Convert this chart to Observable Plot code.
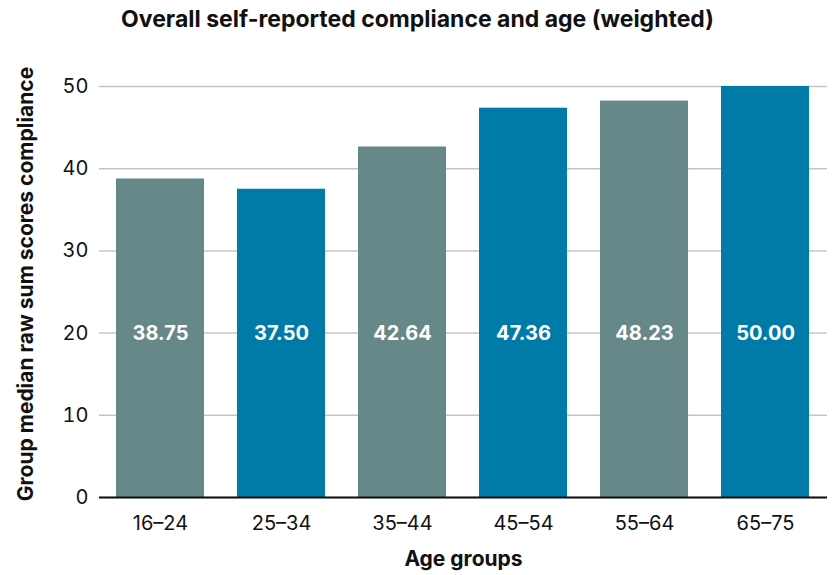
<!DOCTYPE html>
<html>
<head>
<meta charset="utf-8">
<script src="https://cdn.jsdelivr.net/npm/d3@7"></script>
<script src="https://cdn.jsdelivr.net/npm/@observablehq/plot@0.6"></script>
<style>
  html, body { margin: 0; padding: 0; background: #fff; }
  #chart { width: 835px; }
  .title {
    height: 40px;
    line-height: 38px;
    text-align: center;
    font-family: Inter, "Liberation Sans", sans-serif;
    font-weight: 700;
    font-size: 23px;
    color: #111;
  }
  svg { display: block; }
</style>
</head>
<body>
<div id="chart">
  <div class="title">Overall self-reported compliance and age (weighted)</div>
</div>
<script>
// Age bands and their weighted group medians
const ageGroups = ["16–24", "25–34", "35–44", "45–54", "55–64", "65–75"];
const medians = [38.75, 37.50, 42.64, 47.36, 48.23, 50.00];
const barTone = ["slate", "teal", "slate", "teal", "slate", "teal"];
const yTicks = [0, 10, 20, 30, 40, 50];

const yLabel = "Group median raw sum scores compliance";
const xLabel = "Age groups";

// Value labels sit at this level on the y scale
const labelLevel = 20;

const rows = ageGroups.map((age, i) => ({age, value: medians[i], tone: barTone[i]}));

const font = "Inter, 'Liberation Sans', sans-serif";

const chart = Plot.plot({
  width: 835,
  height: 535,
  marginTop: 46,
  marginBottom: 78,
  marginLeft: 99,
  marginRight: 8,
  style: {fontFamily: font, fontSize: "20px", color: "#111", background: "#fff"},
  x: {domain: ageGroups, paddingInner: 0.27, paddingOuter: 0.14, label: null},
  y: {domain: [0, 50], label: null},
  color: {type: "ordinal", domain: ["slate", "teal"], range: ["#668889", "#007ba7"]},
  marks: [
    Plot.gridY(yTicks, {stroke: "#c4c4c4", strokeOpacity: 1, strokeWidth: 1.5}),
    Plot.barY(rows, {x: "age", y: "value", fill: d => d.tone}),
    Plot.ruleY([0], {stroke: "#111", strokeWidth: 2}),
    Plot.axisY(yTicks, {tickSize: 0, tickPadding: 11, label: null, fontSize: 20}),
    Plot.axisX({tickSize: 0, tickPadding: 18, label: null, fontSize: 20}),
    Plot.text(rows, {
      x: "age", y: () => labelLevel,
      text: d => d.value.toFixed(2),
      fill: "#fff", fontWeight: 700, fontSize: 20
    }),
    Plot.text([yLabel], {
      frameAnchor: "left", textAnchor: "middle", rotate: -90, dx: -73, dy: -8,
      fontWeight: 700, fontSize: 21, fill: "#111"
    }),
    Plot.text([xLabel], {
      frameAnchor: "bottom", dy: 68,
      fontWeight: 700, fontSize: 21, fill: "#111"
    })
  ]
});

document.getElementById("chart").appendChild(chart);
</script>
</body>
</html>
